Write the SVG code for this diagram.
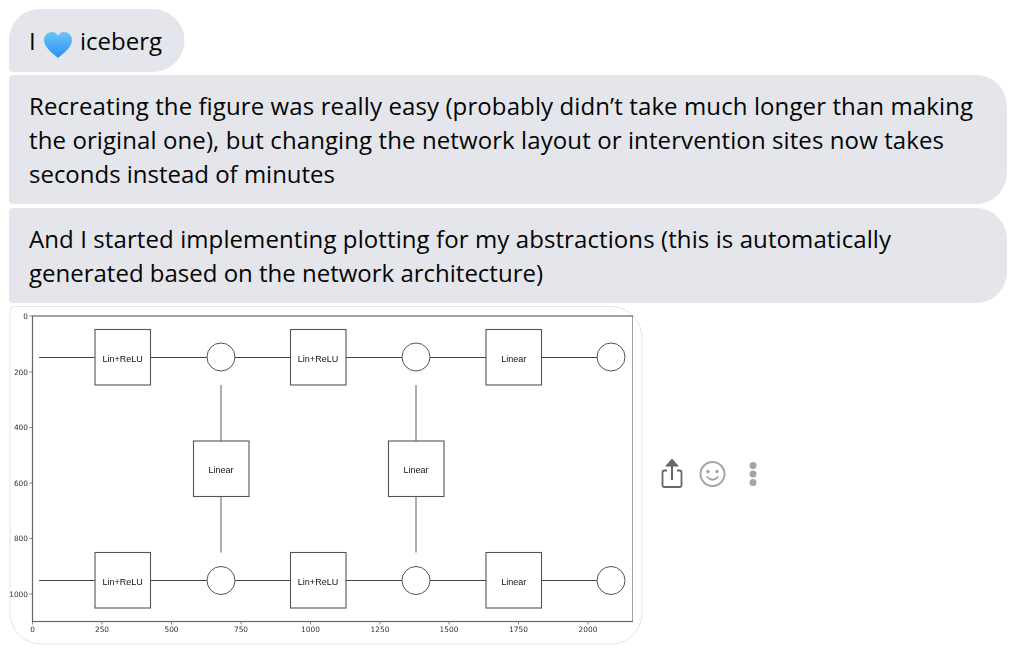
<svg xmlns="http://www.w3.org/2000/svg" width="1029" height="651" viewBox="0 0 1029 651">
<style>
.msg{font-family:"Open Sans","Noto Sans","Liberation Sans",sans-serif;font-size:24px;fill:#050505}
.bub{fill:#e4e6eb}
.ax{font-family:"DejaVu Sans","Liberation Sans",sans-serif;font-size:7.4px;fill:#333}
.lab{font-family:"Liberation Sans",sans-serif;font-size:9px;fill:#111;text-anchor:middle}
.box{fill:#fff;stroke:#555;stroke-width:1.100}
.c{fill:#fff;stroke:#555;stroke-width:1}
.ln{stroke:#444;stroke-width:1;fill:none}
.vl{stroke:#777;stroke-width:1.200;fill:none}
.tick{stroke:#666;stroke-width:.8}
</style>
<defs>
<linearGradient id="heart" x1="0" y1="0" x2="0" y2="1"><stop offset="0" stop-color="#6cc4f8"/><stop offset="1" stop-color="#2b8ff0"/></linearGradient>
<filter id="soft" x="0" y="0" width="100%" height="100%"><feGaussianBlur stdDeviation="0.3"/></filter>
</defs>
<rect width="1029" height="651" fill="#fff"/>
<g id="bubble-1">
<path class="bub" d="M13 72 Q9 72 9 68 V40 A31 31 0 0 1 40 9 H153 A31.500 31.500 0 0 1 153 72 Z"/>
<text class="msg" x="29" y="50">I</text>
<path d="M58 58 C52 53 44 47 44 40 C44 35 48 32 52 32 C55 32 57 34 58 36 C59 34 61 32 64 32 C68 32 72 35 72 40 C72 47 64 53 58 58 Z" fill="url(#heart)"/>
<text class="msg" x="80" y="50" textLength="82">iceberg</text>
</g>
<g id="bubble-2">
<path class="bub" d="M13 75 H976 A31 31 0 0 1 1007 106 V173 A31 31 0 0 1 976 204 H13 Q9 204 9 200 V79 Q9 75 13 75 Z"/>
<text class="msg" x="29" y="115" textLength="944">Recreating the figure was really easy (probably didn’t take much longer than making</text>
<text class="msg" x="29" y="149" textLength="915">the original one), but changing the network layout or intervention sites now takes</text>
<text class="msg" x="29" y="183" textLength="306">seconds instead of minutes</text>
</g>
<g id="bubble-3">
<path class="bub" d="M13 208 H976 A31 31 0 0 1 1007 239 V272 A31 31 0 0 1 976 303 H13 Q9 303 9 299 V212 Q9 208 13 208 Z"/>
<text class="msg" x="29" y="248" textLength="862">And I started implementing plotting for my abstractions (this is automatically</text>
<text class="msg" x="29" y="282" textLength="514">generated based on the network architecture)</text>
</g>
<g id="image-frame">
<path d="M14 306.500 H611 A31 31 0 0 1 642 337.500 V613 A31 31 0 0 1 611 644 H41 A31 31 0 0 1 10 613 V310.500 Q10 306.500 14 306.500 Z" fill="#fff" stroke="#e4e6eb" stroke-width="1"/>
</g>
<g id="plot" filter="url(#soft)">
<g id="axes">
<rect x="32.500" y="316" width="600.500" height="305.500" fill="#fff" stroke="#666" stroke-width="1.200"/>
<path class="tick" d="M29.500 316H32.500M29.500 372H32.500M29.500 427.500H32.500M29.500 483H32.500M29.500 538.500H32.500M29.500 594H32.500M32.500 621.500V624.500M102 621.500V624.500M171.500 621.500V624.500M241 621.500V624.500M310.500 621.500V624.500M380 621.500V624.500M449 621.500V624.500M518.500 621.500V624.500M588 621.500V624.500"/>
<g class="ax" text-anchor="end">
<text x="28" y="319">0</text><text x="28" y="374.500">200</text><text x="28" y="430">400</text><text x="28" y="485.500">600</text><text x="28" y="541">800</text><text x="28" y="596.500">1000</text>
</g>
<g class="ax" text-anchor="middle">
<text x="32.500" y="632">0</text><text x="102" y="632">250</text><text x="171.500" y="632">500</text><text x="241" y="632">750</text><text x="310.500" y="632">1000</text><text x="380" y="632">1250</text><text x="449" y="632">1500</text><text x="518.500" y="632">1750</text><text x="588" y="632">2000</text>
</g>
</g>
<g id="connectors">
<path class="ln" d="M39 357.500H207M235 357.500H402M430 357.500H597"/>
<path class="ln" d="M39 580.500H207M235 580.500H402M430 580.500H597"/>
<path class="vl" d="M221 385V441M221 497V552.500M416 385V441M416 497V552.500"/>
</g>
<g id="top-1"><rect class="box" x="95" y="329.500" width="55.500" height="55.500"/><text class="lab" x="122.700" y="361.500">Lin+ReLU</text></g>
<g id="top-2"><rect class="box" x="290.500" y="329.500" width="55.500" height="55.500"/><text class="lab" x="318" y="361.500">Lin+ReLU</text></g>
<g id="top-3"><rect class="box" x="486" y="329.500" width="55.500" height="55.500"/><text class="lab" x="513.700" y="361.500">Linear</text></g>
<g id="mid-1"><rect class="box" x="193.500" y="441" width="55.500" height="55.500"/><text class="lab" x="221" y="473">Linear</text></g>
<g id="mid-2"><rect class="box" x="388.500" y="441" width="55.500" height="55.500"/><text class="lab" x="416" y="473">Linear</text></g>
<g id="bot-1"><rect class="box" x="95" y="552.500" width="55.500" height="55.500"/><text class="lab" x="122.700" y="585">Lin+ReLU</text></g>
<g id="bot-2"><rect class="box" x="290.500" y="552.500" width="55.500" height="55.500"/><text class="lab" x="318" y="585">Lin+ReLU</text></g>
<g id="bot-3"><rect class="box" x="486" y="552.500" width="55.500" height="55.500"/><text class="lab" x="513.700" y="585">Linear</text></g>
<g id="circle-t1"><circle class="c" cx="221" cy="357" r="14"/></g>
<g id="circle-t2"><circle class="c" cx="416" cy="357" r="14"/></g>
<g id="circle-t3"><circle class="c" cx="611" cy="357" r="14"/></g>
<g id="circle-b1"><circle class="c" cx="221" cy="580.500" r="14"/></g>
<g id="circle-b2"><circle class="c" cx="416" cy="580.500" r="14"/></g>
<g id="circle-b3"><circle class="c" cx="611" cy="580.500" r="14"/></g>
</g>
<g id="icon-share">
<path d="M667 470.500H664.500Q662.500 470.500 662.500 472.500V485Q662.500 487 664.500 487H679.500Q681.500 487 681.500 485V472.500Q681.500 470.500 679.500 470.500H677" fill="none" stroke="#65676b" stroke-width="1.800"/>
<path d="M672 458.500L679 466.500H673V480H671V466.500H665Z" fill="#65676b"/>
</g>
<g id="icon-smile">
<circle cx="712.500" cy="474" r="12" fill="none" stroke="#a5a5a5" stroke-width="2"/>
<circle cx="708" cy="471.500" r="1.700" fill="#a5a5a5"/><circle cx="717" cy="471.500" r="1.700" fill="#a5a5a5"/>
<path d="M706.500 476.500Q712.500 483 718.500 476.500" fill="none" stroke="#a5a5a5" stroke-width="1.800"/>
</g>
<g id="icon-more" fill="#a5a5a5"><circle cx="753" cy="465.500" r="3.500"/><circle cx="753" cy="474" r="3.500"/><circle cx="753" cy="482.500" r="3.500"/></g>
</svg>
